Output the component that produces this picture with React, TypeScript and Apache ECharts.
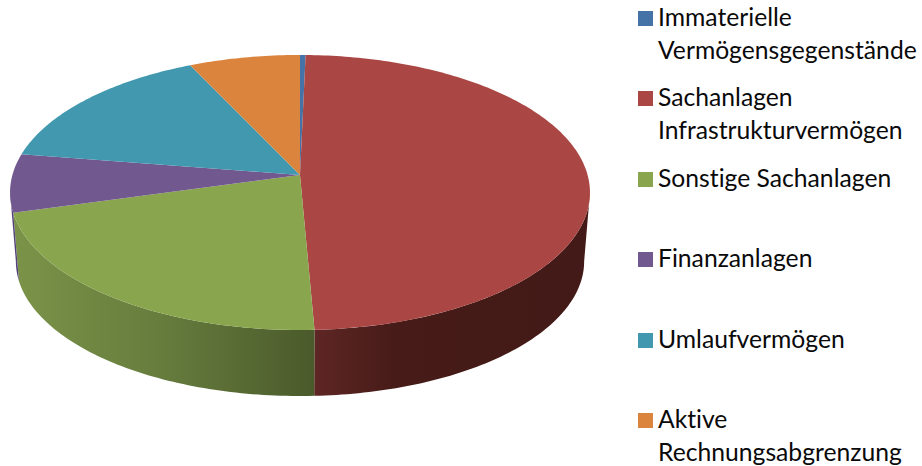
import React, { useEffect, useRef } from "react";
import * as echarts from "echarts";

const categories = [
  "Immaterielle\nVermögensgegenstände",
  "Sachanlagen\nInfrastrukturvermögen",
  "Sonstige Sachanlagen",
  "Finanzanlagen",
  "Umlaufvermögen",
  "Aktive\nRechnungsabgrenzung",
];
const shares = [0.35, 48.95, 21.35, 6.85, 15.5, 7.0];
const topColors = ["#4572A7", "#AA4643", "#89A54E", "#71588F", "#4198AF", "#DB843D"];
const wallStops: [number, string][][] = [
  [[0, "#2c4a6e"], [1, "#2c4a6e"]],
  [[0, "#5e2624"], [0.3, "#461b18"], [1, "#431a17"]],
  [[0, "#7b9348"], [0.5, "#667c3d"], [1, "#4a5a2b"]],
  [[0, "#55427a"], [1, "#55427a"]],
  [[0, "#2c6878"], [1, "#2c6878"]],
  [[0, "#94592a"], [1, "#94592a"]],
];
const legendCenters = [18.5, 98.5, 179.5, 259.5, 340.5, 420.5];

// Perspective view of the pie disc
const CX = 300, CY = 175, A = 287.6, B = 135.3, K = 0.1273;
const SCALE_LOW = 0.98, MID_Y = 192.5, DROP = 68.75;
const LINE = 33.5;
const LIFT = 2.5;

const project = (deg: number): [number, number] => {
  const t = (deg * Math.PI) / 180;
  const u = Math.sin(t), v = -Math.cos(t);
  const w = 1 - K * v;
  return [CX + (A * u) / w, CY + (B * v) / w];
};
const lower = ([x, y]: [number, number]): [number, number] => [
  CX + SCALE_LOW * (x - CX),
  MID_Y + SCALE_LOW * (y - MID_Y) + DROP,
];
const arc = (from: number, to: number) => {
  const n = Math.max(2, Math.ceil(Math.abs(to - from)));
  const pts: [number, number][] = [];
  for (let i = 0; i <= n; i++) pts.push(project(from + ((to - from) * i) / n));
  return pts;
};

const total = shares.reduce((a, b) => a + b, 0);
const WALL_FROM = (Math.acos(-K) * 180) / Math.PI;
const WALL_TO = 360 - WALL_FROM;

const sliceRenderer = (index: number) => (_params: any, api: any) => {
  const before = shares.slice(0, index).reduce((a, b) => a + b, 0);
  const start = (before / total) * 360;
  const end = start + (api.value(0) / total) * 360;
  const children: any[] = [];
  const wa = Math.max(start, WALL_FROM);
  const wb = Math.min(end, WALL_TO);
  if (wb > wa) {
    const upper = arc(wa, wb);
    const bottom = upper.map(lower).reverse();
    const xs = upper.concat(bottom).map((p) => p[0]);
    const stops = wallStops[index].map(([offset, color]) => ({ offset, color }));
    children.push({
      type: "polygon",
      shape: { points: upper.concat(bottom) },
      style: {
        fill: {
          type: "linear",
          x: Math.min(...xs),
          y: 0,
          x2: Math.max(...xs),
          y2: 0,
          global: true,
          colorStops: stops,
        },
      },
    });
  }
  children.push({
    type: "polygon",
    shape: { points: [[CX, CY] as [number, number]].concat(arc(start, end)) },
    style: { fill: topColors[index] },
  });
  return { type: "group", children };
};

const labelFont = { fontFamily: "Lato", fontSize: 24.7, lineHeight: LINE, color: "#0a0a0a" };

// A spacer line keeps the first text line level with the square, just above its centre.
const legendLabel = (name: string) => {
  const parts = name.split("\n").map((p) => `{t|${p}}`);
  return parts.length === 2
    ? `{above| }\n${parts[0]}\n${parts[1]}`
    : `${parts[0]}\n{below| }`;
};

export default function App() {
  const ref = useRef<HTMLDivElement>(null);
  useEffect(() => {
    const chart = echarts.init(ref.current!, null, { renderer: "svg" });
    chart.setOption({
      animation: false,
      backgroundColor: "#ffffff",
      legend: categories.map((name, i) => {
        const aboveH = LINE - 2 * LIFT;
        const belowH = 2 * LIFT;
        const blockH = name.includes("\n") ? aboveH + 2 * LINE : LINE + belowH;
        return {
          data: [name],
          left: 638,
          top: legendCenters[i] - blockH / 2,
          padding: 0,
          icon: "rect",
          itemWidth: 15,
          itemHeight: 15,
          selectedMode: false,
          formatter: legendLabel,
          textStyle: {
            ...labelFont,
            rich: {
              t: labelFont,
              above: { fontFamily: "Lato", fontSize: 10, lineHeight: aboveH },
              below: { fontFamily: "Lato", fontSize: 4, lineHeight: belowH },
            },
          },
        };
      }),
      series: categories.map((name, i) => ({
        type: "custom",
        name,
        coordinateSystem: "none",
        silent: true,
        itemStyle: { color: topColors[i] },
        data: [[shares[i]]],
        renderItem: sliceRenderer(i),
      })),
    });
    return () => chart.dispose();
  }, []);
  return (
    <div
      ref={ref}
      style={{
        position: "absolute",
        left: 0,
        top: 0,
        width: 922,
        height: 466,
        fontVariantLigatures: "none",
      }}
    />
  );
}
